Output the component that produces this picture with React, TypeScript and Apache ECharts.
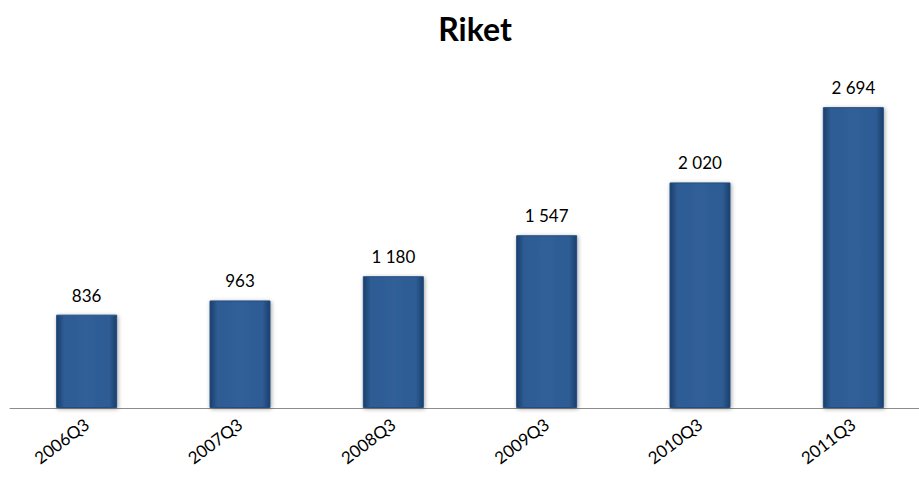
import React, { useEffect, useRef } from "react";
import * as echarts from "echarts";

const categories = ["2006Q3", "2007Q3", "2008Q3", "2009Q3", "2010Q3", "2011Q3"];
const values = [836, 963, 1180, 1547, 2020, 2694];

const fmt = (v: number) => String(v).replace(/\B(?=(\d{3})+(?!\d))/g, " ");

export default function App() {
  const ref = useRef<HTMLDivElement>(null);
  useEffect(() => {
    document.body.style.margin = "0";
    if (!ref.current) return;
    const chart = echarts.init(ref.current, null, { renderer: "svg" });
    chart.setOption({
      animation: false,
      backgroundColor: "#ffffff",
      title: {
        text: "Riket",
        left: 470,
        top: 7,
        textAlign: "center",
        textStyle: { fontFamily: "Lato", fontWeight: "bold", fontSize: 32, color: "#000" },
      },
      grid: {
        left: 10,
        width: 920,
        top: 73,
        height: 335,
        containLabel: false,
        outerBoundsMode: "none",
      },
      xAxis: {
        type: "category",
        data: categories,
        axisLine: { lineStyle: { color: "#8c8c8c", width: 1 } },
        axisTick: { show: false },
        axisLabel: {
          rotate: 37,
          fontFamily: "Lato",
          fontSize: 17,
          color: "#000",
          margin: 14,
        },
      },
      yAxis: {
        type: "value",
        min: 0,
        max: 3000,
        show: false,
        splitLine: { show: false },
      },
      series: [
        {
          type: "bar",
          data: values,
          barWidth: 61,
          itemStyle: {
            color: new echarts.graphic.LinearGradient(0, 0, 1, 0, [
              { offset: 0, color: "#1b3f6b" },
              { offset: 0.12, color: "#2d5b93" },
              { offset: 0.5, color: "#305f98" },
              { offset: 0.88, color: "#2d5b93" },
              { offset: 1, color: "#1b3f6b" },
            ]),
            borderColor: "#234d80",
            borderWidth: 1,
            shadowColor: "rgba(0,0,0,0.35)",
            shadowBlur: 4,
            shadowOffsetX: 1,
            shadowOffsetY: 1,
          },
          label: {
            show: true,
            position: "top",
            distance: 11,
            formatter: (p: any) => fmt(p.value),
            fontFamily: "Lato",
            fontSize: 17,
            color: "#000",
          },
        },
      ],
    });
    return () => chart.dispose();
  }, []);
  return <div ref={ref} style={{ width: 919, height: 477 }} />;
}
